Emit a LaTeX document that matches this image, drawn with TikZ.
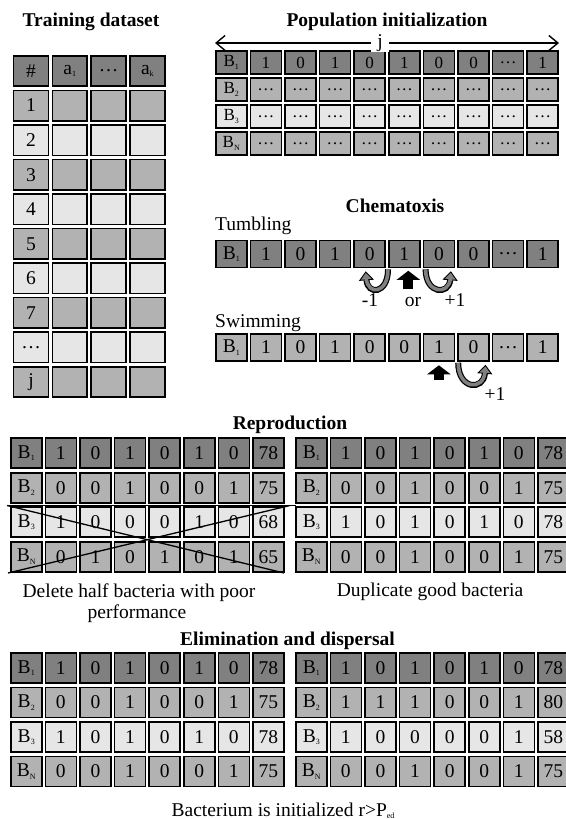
\documentclass[tikz,border=0pt]{standalone}
\usepackage{fontspec}
\setmainfont{Liberation Serif}
\usetikzlibrary{arrows.meta}
\definecolor{dk}{HTML}{808080}
\definecolor{md}{HTML}{B2B2B2}
\definecolor{lt}{HTML}{E6E6E6}
\newcommand{\lowsub}[1]{\raisebox{-2.5pt}{\fontsize{8}{8}\selectfont #1}}
\begin{document}
\begin{tikzpicture}[x=1pt,y=-1pt,
  txt/.style={font=\fontsize{19.5}{21}\selectfont,inner sep=0pt},
  heading/.style={font=\bfseries\fontsize{19.5}{21}\selectfont,inner sep=0pt,anchor=base},
  cellbox/.style={draw=black,line width=1.6pt,inner sep=0pt,font=\fontsize{19.5}{21}\selectfont},
  tcell/.style={cellbox,minimum width=34.9pt,minimum height=30.4pt},
  pcell/.style={cellbox,minimum width=31pt,minimum height=23.4pt,font=\fontsize{17}{19}\selectfont},
  ccell/.style={cellbox,minimum width=31pt,minimum height=27pt},
  rcell/.style={cellbox,minimum width=31pt,minimum height=30pt},
  jarrow/.style={line width=1.4pt,{Straight Barb[length=9pt,width=15pt]}-{Straight Barb[length=9pt,width=15pt]}},
  uback/.style={draw=black,line width=6pt,-{Triangle[length=9pt,width=15pt,fill=dk,line width=0.9pt]}},
  ufront/.style={draw=dk,line width=3.6pt,shorten >=7.5pt},
  blk/.style={line width=10pt,-{Triangle[length=9pt,width=23pt]}},
  crossline/.style={line width=1.3pt}]
\useasboundingbox (0,0) rectangle (565,819);

\node[heading] (dttl) at (91,26) {Training dataset};
\foreach \v [count=\c from 0] in {\#,a\lowsub{1},…,a\lowsub{k}}
  \node[tcell,fill=dk] (d0-\c) at (31+38.8*\c,71) {\v};
\foreach \v/\col [count=\r] in {1/md,2/lt,3/md,4/lt,5/md,6/lt,7/md,…/lt,j/md} {
  \node[tcell,fill=\col] (d\r-0) at (31,71+34.55*\r) {\v};
  \foreach \c in {1,2,3}
    \node[tcell,fill=\col] (d\r-\c) at (31+38.8*\c,71+34.55*\r) {};
}

\node[heading] (pttl) at (387,26) {Population initialization};
\foreach \v [count=\c from 0] in {B\lowsub{1},1,0,1,0,1,0,0,…,1}
  \node[pcell,fill=dk] (p1-\c) at (231.3+34.6*\c,62.5) {\v};
\foreach \v/\col [count=\r from 2] in {B\lowsub{2}/md,B\lowsub{3}/lt,B\lowsub{N}/md} {
  \node[pcell,fill=\col] (p\r-0) at (231.3,35.5+27*\r) {\v};
  \foreach \c in {1,...,9}
    \node[pcell,fill=\col] (p\r-\c) at (231.3+34.6*\c,35.5+27*\r) {…};
}
\draw[jarrow] ([yshift=7pt]p1-0.north west) -- node[txt,fill=white,inner xsep=6pt,pos=0.48] (jlab) {j} ([yshift=7pt]p1-9.north east);

\node[heading] (cttl) at (395,212) {Chematoxis};
\node[txt,anchor=base west] (tumb) at (215,230) {Tumbling};
\foreach \v [count=\c from 0] in {B\lowsub{1},1,0,1,0,1,0,0,…,1}
  \node[ccell,fill=dk] (tu-\c) at (231.3+34.6*\c,254) {\v};
\foreach \s in {uback,ufront} {
  \draw[\s] ([xshift=2pt,yshift=-1pt]tu-4.south east) .. controls +(0,25) and +(2,24) .. ([xshift=-4pt,yshift=-3pt]tu-4.south);
  \draw[\s] ([xshift=3pt,yshift=-1pt]tu-6.south west) .. controls +(0,25) and +(-2,24) .. ([xshift=12pt,yshift=-3pt]tu-6.south);
}
\draw[blk] ([xshift=4pt,yshift=-21pt]tu-5.south) -- ([xshift=4pt,yshift=-2.5pt]tu-5.south);
\node[txt,anchor=base] (minus) at (370,306) {-1};
\node[txt,anchor=base] (orlab) at (413,306) {or};
\node[txt,anchor=base] (plus) at (455,306) {+1};

\node[txt,anchor=base west] (swim) at (215,327) {Swimming};
\foreach \v [count=\c from 0] in {B\lowsub{1},1,0,1,0,0,1,0,…,1}
  \node[ccell,fill=md] (sw-\c) at (231.3+34.6*\c,347.5) {\v};
\foreach \s in {uback,ufront}
  \draw[\s] ([xshift=1pt,yshift=-1pt]sw-7.south west) .. controls +(0,27) and +(-2,26) .. ([xshift=12pt,yshift=-3pt]sw-7.south);
\draw[blk] ([yshift=-18pt]sw-6.south) -- ([yshift=-3.5pt]sw-6.south);
\node[txt,anchor=base] (splus) at (495,400) {+1};

\node[heading] (rttl) at (290,429) {Reproduction};
\foreach \lab/\col/\vals [count=\r from 0] in {B\lowsub{1}/dk/{1,0,1,0,1,0,78},B\lowsub{2}/md/{0,0,1,0,0,1,75},B\lowsub{3}/lt/{1,0,0,0,1,0,68},B\lowsub{N}/md/{0,1,0,1,0,1,65}} {
  \node[rcell,fill=\col] (ra\r-0) at (26.25,453.25+34.5*\r) {\lab};
  \foreach \v [count=\c] in \vals
    \node[rcell,fill=\col] (ra\r-\c) at (26.25+34.6*\c,453.25+34.5*\r) {\v};
}
\foreach \lab/\col/\vals [count=\r from 0] in {B\lowsub{1}/dk/{1,0,1,0,1,0,78},B\lowsub{2}/md/{0,0,1,0,0,1,75},B\lowsub{3}/lt/{1,0,1,0,1,0,78},B\lowsub{N}/md/{0,0,1,0,0,1,75}} {
  \node[rcell,fill=\col] (rb\r-0) at (311.25,453.25+34.5*\r) {\lab};
  \foreach \v [count=\c] in \vals
    \node[rcell,fill=\col] (rb\r-\c) at (311.25+34.6*\c,453.25+34.5*\r) {\v};
}
\coordinate (xl) at (7,505.5);
\coordinate (xr) at (296,505.5);
\coordinate (xtr) at (290,505.5);
\coordinate (xbl) at (8,573);
\coordinate (xbr) at (284,573);
\draw[crossline] (xl) -- (xr);
\draw[crossline] (xl) -- (xbr);
\draw[crossline] (xbl) -- (xtr);
\node[txt,anchor=base] (del1) at (139,597) {Delete half bacteria with poor};
\node[txt,anchor=base] (del2) at (137,618) {performance};
\node[txt,anchor=base] (dup) at (430,596) {Duplicate good bacteria};

\node[heading] (ettl) at (287.5,645) {Elimination and dispersal};
\foreach \lab/\col/\vals [count=\r from 0] in {B\lowsub{1}/dk/{1,0,1,0,1,0,78},B\lowsub{2}/md/{0,0,1,0,0,1,75},B\lowsub{3}/lt/{1,0,1,0,1,0,78},B\lowsub{N}/md/{0,0,1,0,0,1,75}} {
  \node[rcell,fill=\col] (ea\r-0) at (26.25,668+34.5*\r) {\lab};
  \foreach \v [count=\c] in \vals
    \node[rcell,fill=\col] (ea\r-\c) at (26.25+34.6*\c,668+34.5*\r) {\v};
}
\foreach \lab/\col/\vals [count=\r from 0] in {B\lowsub{1}/dk/{1,0,1,0,1,0,78},B\lowsub{2}/md/{1,1,1,0,0,1,80},B\lowsub{3}/lt/{1,0,0,0,0,1,58},B\lowsub{N}/md/{0,0,1,0,0,1,75}} {
  \node[rcell,fill=\col] (eb\r-0) at (311.25,668+34.5*\r) {\lab};
  \foreach \v [count=\c] in \vals
    \node[rcell,fill=\col] (eb\r-\c) at (311.25+34.6*\c,668+34.5*\r) {\v};
}
\node[txt,anchor=base] (init) at (283,816) {Bacterium is initialized r>P\lowsub{ed}};
\end{tikzpicture}
\end{document}
